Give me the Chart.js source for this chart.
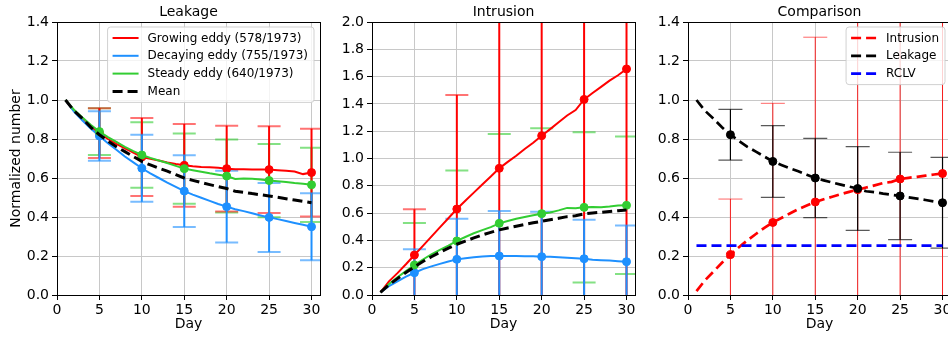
<!DOCTYPE html>
<html>
<head>
<meta charset="utf-8">
<script src="https://cdn.jsdelivr.net/npm/chart.js@4.4.0/dist/chart.umd.min.js"></script>
<style>
  html, body { margin: 0; padding: 0; background: #fff; overflow: hidden; width: 948px; height: 338px; }
  canvas { position: absolute; top: 0; }
</style>
</head>
<body>
<canvas id="leak" width="377" height="338" style="left:0px"></canvas>
<canvas id="intr" width="377" height="338" style="left:315px"></canvas>
<canvas id="cmp" width="377" height="338" style="left:631px"></canvas>
<script>
// ---- data ----
const days = [1, 2, 3, 4, 5, 6, 7, 8, 9, 10, 11, 12, 13, 14, 15, 16, 17, 18, 19, 20, 21, 22, 23, 24, 25, 26, 27, 28, 29, 30];
const markerDays = [5, 10, 15, 20, 25, 30];

// Leakage panel
const leakGrow = [1.0, 0.945, 0.9, 0.862, 0.83, 0.8, 0.775, 0.752, 0.73, 0.708, 0.698, 0.69, 0.68, 0.672, 0.665, 0.66, 0.657, 0.655, 0.652, 0.648, 0.645, 0.645, 0.644, 0.643, 0.643, 0.64, 0.637, 0.633, 0.62, 0.628];
const leakDecay = [1.0, 0.94, 0.895, 0.852, 0.815, 0.778, 0.745, 0.71, 0.68, 0.65, 0.624, 0.6, 0.576, 0.554, 0.533, 0.515, 0.499, 0.483, 0.467, 0.453, 0.44, 0.43, 0.419, 0.408, 0.398, 0.389, 0.379, 0.369, 0.36, 0.35];
const leakSteady = [1.0, 0.95, 0.91, 0.872, 0.838, 0.81, 0.785, 0.76, 0.738, 0.718, 0.703, 0.69, 0.677, 0.662, 0.648, 0.64, 0.632, 0.624, 0.617, 0.61, 0.595, 0.597, 0.596, 0.592, 0.587, 0.583, 0.579, 0.574, 0.57, 0.565];
const leakMean = [1.0, 0.945, 0.905, 0.86, 0.822, 0.79, 0.76, 0.735, 0.71, 0.685, 0.667, 0.65, 0.635, 0.617, 0.6, 0.588, 0.577, 0.566, 0.556, 0.546, 0.532, 0.527, 0.52, 0.514, 0.508, 0.501, 0.494, 0.487, 0.48, 0.473];
const leakGrowErr = [0.128, 0.2, 0.212, 0.22, 0.223, 0.225];
const leakDecayErr = [0.127, 0.172, 0.184, 0.184, 0.177, 0.172];
const leakSteadyErr = [0.12, 0.168, 0.18, 0.187, 0.188, 0.19];

// Intrusion panel
const intrGrow = [0.02, 0.1, 0.16, 0.225, 0.293, 0.36, 0.428, 0.495, 0.562, 0.63, 0.69, 0.75, 0.81, 0.868, 0.928, 0.975, 1.02, 1.07, 1.115, 1.167, 1.215, 1.265, 1.315, 1.355, 1.433, 1.48, 1.525, 1.57, 1.61, 1.656];
const intrDecay = [0.02, 0.065, 0.1, 0.135, 0.163, 0.19, 0.21, 0.228, 0.245, 0.261, 0.27, 0.277, 0.282, 0.285, 0.286, 0.286, 0.285, 0.284, 0.283, 0.281, 0.28, 0.276, 0.272, 0.269, 0.266, 0.258, 0.255, 0.253, 0.248, 0.244];
const intrSteady = [0.02, 0.08, 0.13, 0.175, 0.22, 0.26, 0.297, 0.33, 0.362, 0.396, 0.425, 0.452, 0.475, 0.497, 0.525, 0.542, 0.558, 0.572, 0.585, 0.596, 0.605, 0.62, 0.638, 0.635, 0.642, 0.645, 0.643, 0.648, 0.655, 0.657];
const intrMean = [0.02, 0.075, 0.12, 0.165, 0.207, 0.245, 0.28, 0.313, 0.344, 0.372, 0.395, 0.418, 0.44, 0.459, 0.477, 0.491, 0.504, 0.517, 0.529, 0.54, 0.551, 0.562, 0.574, 0.58, 0.595, 0.601, 0.606, 0.612, 0.618, 0.623];
const intrGrowErr = [0.335, 0.835, 1.3, 1.5, 1.7, 1.9];
const intrDecayErr = [0.172, 0.298, 0.329, 0.329, 0.286, 0.266];
const intrSteadyErr = [0.307, 0.517, 0.654, 0.625, 0.551, 0.504];

// Comparison panel
const cmpIntrErr = [0.285, 0.611, 0.845, 1.0, 1.1, 1.2];
const cmpLeakErr = [0.13, 0.184, 0.203, 0.215, 0.224, 0.233];
const rclvLevel = 0.253;

const RED = '#ff0000', BLUE = '#1e90ff', GREEN = '#32cd32', BLACK = '#000000';

Chart.defaults.font.family = '"DejaVu Sans", sans-serif';
Chart.defaults.font.size = 14;
Chart.defaults.color = '#000';

const pts = (arr) => days.map((d, i) => ({ x: d, y: arr[i] }));
const midAt = (arr) => markerDays.map(d => arr[days.indexOf(d)]);
const markR = (r) => (c) => (markerDays.includes(c.raw && c.raw.x) ? r : 0);

// error bars, drawn under the lines and clipped to the axes
const errorBars = {
  id: 'errorBars',
  beforeDatasetsDraw(chart, args, opts) {
    const { ctx, chartArea: a, scales: { x, y } } = chart;
    ctx.save();
    ctx.beginPath();
    ctx.rect(a.left, a.top, a.right - a.left, a.bottom - a.top);
    ctx.clip();
    (opts.sets || []).forEach(s => {
      markerDays.forEach((d, i) => {
        const px = x.getPixelForValue(d);
        const hi = y.getPixelForValue(s.mid[i] + s.err[i]);
        const lo = y.getPixelForValue(s.mid[i] - s.err[i]);
        ctx.lineWidth = s.width;
        ctx.strokeStyle = s.color;
        ctx.beginPath();
        ctx.moveTo(px, hi);
        ctx.lineTo(px, lo);
        ctx.stroke();
        ctx.strokeStyle = s.capColor;
        ctx.beginPath();
        ctx.moveTo(px - s.cap, hi); ctx.lineTo(px + s.cap, hi);
        ctx.moveTo(px - s.cap, lo); ctx.lineTo(px + s.cap, lo);
        ctx.stroke();
      });
    });
    ctx.restore();
  }
};

// top and right spines
const frame = {
  id: 'frame',
  afterDatasetsDraw(chart) {
    const { ctx, chartArea: a } = chart;
    ctx.save();
    ctx.strokeStyle = '#000';
    ctx.lineWidth = 1;
    ctx.strokeRect(Math.round(a.left) + 0.5, Math.round(a.top) + 0.5, Math.round(a.right - a.left), Math.round(a.bottom - a.top));
    ctx.restore();
  }
};

// matplotlib-like legend box inside the axes (upper right)
const boxLegend = {
  id: 'boxLegend',
  afterDraw(chart, args, opts) {
    if (!opts.show) return;
    const { ctx, chartArea: a } = chart;
    const items = chart.data.datasets.filter(d => d.label);
    ctx.save();
    ctx.font = '12px "DejaVu Sans", sans-serif';
    const tw = Math.max(...items.map(d => ctx.measureText(d.label).width));
    const padL = 5, lineLen = 26, gap = 9, padR = 6, rowH = 17.8, padT = 11;
    const w = padL + lineLen + gap + tw + padR;
    const h = padT * 2 + (items.length - 1) * rowH;
    const left = a.right - 6 - w, top = a.top + 5;
    ctx.beginPath();
    ctx.roundRect(left, top, w, h, 3);
    ctx.fillStyle = 'rgba(255,255,255,0.8)';
    ctx.fill();
    ctx.strokeStyle = 'rgba(204,204,204,0.9)';
    ctx.lineWidth = 1;
    ctx.stroke();
    items.forEach((d, i) => {
      const cy = top + padT + i * rowH;
      ctx.strokeStyle = d.borderColor;
      ctx.lineWidth = d.borderWidth;
      ctx.setLineDash(d.borderDash || []);
      ctx.beginPath();
      ctx.moveTo(left + padL, cy);
      ctx.lineTo(left + padL + lineLen, cy);
      ctx.stroke();
      ctx.setLineDash([]);
      ctx.fillStyle = '#000';
      ctx.textBaseline = 'middle';
      ctx.fillText(d.label, left + padL + lineLen + gap, cy + 0.5);
    });
    ctx.restore();
  }
};

function axes(yMax, yTitle) {
  return {
    x: {
      type: 'linear', min: 0, max: 31,
      ticks: { stepSize: 5, includeBounds: false, padding: 2 },
      grid: { color: '#c8c8c8', tickColor: '#000', tickLength: 5 },
      border: { color: '#000', width: 1 },
      title: { display: true, text: 'Day', padding: { top: 0, bottom: 5 } },
      afterFit: s => { s.height = 43; }
    },
    y: {
      min: 0, max: yMax,
      ticks: { stepSize: 0.2, includeBounds: false, padding: 3, callback: v => v.toFixed(1) },
      grid: { color: '#c8c8c8', tickColor: '#000', tickLength: 5 },
      border: { color: '#000', width: 1 },
      title: { display: !!yTitle, text: yTitle || '', padding: { top: 7.6, bottom: 0 } },
      afterFit: s => { s.width = 57; }
    },
    // empty right-hand gutter so the panel title centres over the axes
    gutter: {
      position: 'right', min: 0, max: yMax,
      ticks: { display: false }, grid: { display: false }, border: { display: false },
      afterFit: s => { s.width = 57; }
    }
  };
}

function baseOptions(title, yMax, yTitle, sets, legend) {
  return {
    responsive: false,
    animation: false,
    layout: { padding: 0 },
    scales: axes(yMax, yTitle),
    plugins: {
      legend: { display: false },
      tooltip: { enabled: false },
      title: { display: true, text: title, font: { size: 14, weight: 'normal', lineHeight: 1.2 }, padding: { top: 4, bottom: 1.2 }, color: '#000' },
      errorBars: { sets: sets },
      boxLegend: { show: legend }
    }
  };
}

function solid(label, arr, color, order) {
  return {
    label: label, data: pts(arr), borderColor: color, backgroundColor: color,
    borderWidth: 2, pointRadius: markR(4), pointBorderWidth: 1,
    pointBackgroundColor: color, pointBorderColor: color, tension: 0, order: order
  };
}

function dashed(label, data, color, width, withMarkers, order) {
  return {
    label: label, data: data, borderColor: color, backgroundColor: color,
    borderWidth: width, borderDash: [10, 5], borderCapStyle: 'butt',
    pointRadius: withMarkers ? markR(4) : 0, pointBorderWidth: 1,
    pointBackgroundColor: color, pointBorderColor: color, tension: 0, order: order
  };
}

const thickBar = (mid, err, color, capColor) => ({ mid: mid, err: err, color: color, capColor: capColor, width: 2, cap: 11.5 });

// Leakage
new Chart(document.getElementById('leak'), {
  type: 'line',
  data: {
    datasets: [
      solid('Growing eddy (578/1973)', leakGrow, RED, 3),
      solid('Decaying eddy (755/1973)', leakDecay, BLUE, 2),
      solid('Steady eddy (640/1973)', leakSteady, GREEN, 1),
      dashed('Mean', pts(leakMean), BLACK, 3, false, 0)
    ]
  },
  options: baseOptions('Leakage', 1.4, 'Normalized number', [
    thickBar(midAt(leakSteady), leakSteadyErr, GREEN, 'rgba(50,205,50,0.6)'),
    thickBar(midAt(leakGrow), leakGrowErr, RED, 'rgba(255,0,0,0.55)'),
    thickBar(midAt(leakDecay), leakDecayErr, BLUE, 'rgba(30,144,255,0.6)')
  ], true),
  plugins: [errorBars, frame, boxLegend]
});

// Intrusion
new Chart(document.getElementById('intr'), {
  type: 'line',
  data: {
    datasets: [
      solid('', intrGrow, RED, 3),
      solid('', intrDecay, BLUE, 2),
      solid('', intrSteady, GREEN, 1),
      dashed('', pts(intrMean), BLACK, 3, false, 0)
    ]
  },
  options: baseOptions('Intrusion', 2.0, null, [
    thickBar(midAt(intrSteady), intrSteadyErr, 'rgba(50,205,50,0)', 'rgba(50,205,50,0.6)'),
    thickBar(midAt(intrGrow), intrGrowErr, RED, 'rgba(255,0,0,0.55)'),
    thickBar(midAt(intrDecay), intrDecayErr, BLUE, 'rgba(30,144,255,0.6)')
  ], false),
  plugins: [errorBars, frame, boxLegend]
});

// Comparison
new Chart(document.getElementById('cmp'), {
  type: 'line',
  data: {
    datasets: [
      dashed('Intrusion', pts(intrMean), RED, 2.7, true, 2),
      dashed('Leakage', pts(leakMean), BLACK, 2.7, true, 1),
      dashed('RCLV', [{ x: days[0], y: rclvLevel }, { x: days[days.length - 1], y: rclvLevel }], '#0000ff', 2.7, false, 0)
    ]
  },
  options: baseOptions('Comparison', 1.4, null, [
    { mid: midAt(intrMean), err: cmpIntrErr, color: 'rgba(255,0,0,0.85)', capColor: 'rgba(255,0,0,0.6)', width: 1, cap: 12 },
    { mid: midAt(leakMean), err: cmpLeakErr, color: '#000', capColor: 'rgba(0,0,0,0.65)', width: 1.2, cap: 12 }
  ], true),
  plugins: [errorBars, frame, boxLegend]
});
</script>
</body>
</html>
